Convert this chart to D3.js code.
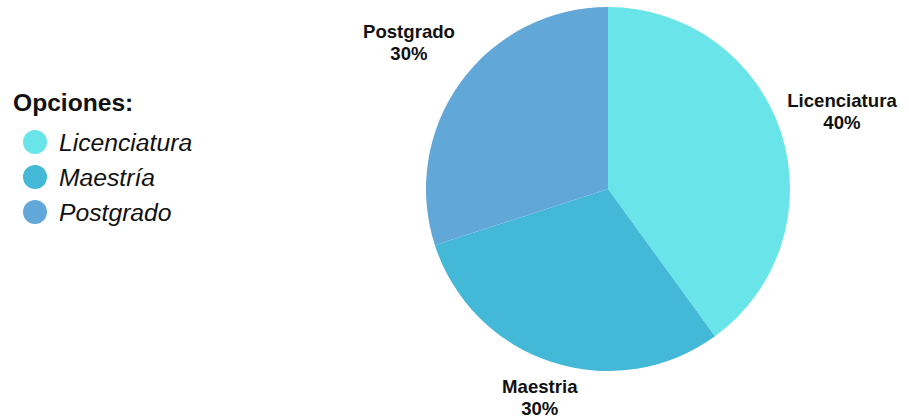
<!DOCTYPE html>
<html>
<head>
<meta charset="utf-8">
<script src="https://cdn.jsdelivr.net/npm/d3@7"></script>
<style>
  body { margin: 0; background: #fff; }
  text { font-family: "Liberation Sans", Arial, sans-serif; }
</style>
</head>
<body>
<script>
// Daten
var categories = ["Licenciatura", "Maestría", "Postgrado"];
var labels = ["Licenciatura", "Maestria", "Postgrado"]; // Beschriftung am Kuchen
var values = [40, 30, 30];
var colors = ["#69E4E8", "#43B8D7", "#61A8D8"];

var width = 909, height = 419;
var cx = 608, cy = 189, radius = 182;

var svg = d3.select("body").append("svg")
  .attr("width", width)
  .attr("height", height);

var color = d3.scaleOrdinal().domain(categories).range(colors);

var pie = d3.pie().sort(null).value(function (d, i) { return values[i]; });
var arcs = pie(categories);

var arc = d3.arc().innerRadius(0).outerRadius(radius);

var g = svg.append("g").attr("transform", "translate(" + cx + "," + cy + ")");

g.selectAll("path")
  .data(arcs)
  .enter().append("path")
  .attr("d", arc)
  .attr("fill", function (d) { return color(d.data); });

// Beschriftung ausserhalb
var labelR = 246;
var lbl = g.selectAll("g.lbl")
  .data(arcs)
  .enter().append("g")
  .attr("class", "lbl")
  .attr("transform", function (d) {
    var a = (d.startAngle + d.endAngle) / 2;
    var r = labelR;
    // unten nicht aus dem Bild laufen
    var maxY = height - 20 - cy;
    if (-Math.cos(a) * r > maxY) r = maxY / -Math.cos(a);
    return "translate(" + (Math.sin(a) * r) + "," + (-Math.cos(a) * r) + ")";
  });

lbl.append("text")
  .attr("text-anchor", "middle")
  .attr("y", -6)
  .style("font-size", "18.6px")
  .style("font-weight", "bold")
  .attr("fill", "#111")
  .text(function (d, i) { return labels[i]; });

lbl.append("text")
  .attr("text-anchor", "middle")
  .attr("y", 16)
  .style("font-size", "18.6px")
  .style("font-weight", "bold")
  .attr("fill", "#111")
  .text(function (d, i) { return values[i] + "%"; });

// Legende
var legend = svg.append("g");
legend.append("text")
  .attr("x", 13).attr("y", 111)
  .style("font-size", "24.6px")
  .style("font-weight", "bold")
  .attr("fill", "#111")
  .text("Opciones:");

var item = legend.selectAll("g.item")
  .data(categories)
  .enter().append("g")
  .attr("class", "item")
  .attr("transform", function (d, i) { return "translate(0," + (142 + i * 35) + ")"; });

item.append("circle")
  .attr("cx", 35).attr("cy", 0).attr("r", 12)
  .attr("fill", function (d) { return color(d); });

item.append("text")
  .attr("x", 59).attr("y", 8.5)
  .style("font-size", "24.7px")
  .style("font-style", "italic")
  .attr("fill", "#111")
  .text(function (d) { return d; });
</script>
</body>
</html>
